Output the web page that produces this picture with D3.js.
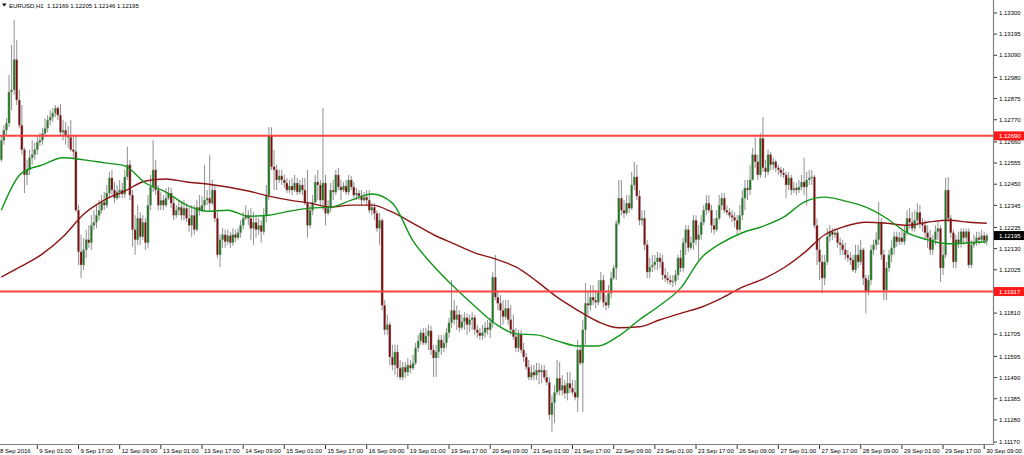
<!DOCTYPE html>
<html><head><meta charset="utf-8">
<script src="https://cdn.jsdelivr.net/npm/d3@7"></script>
<style>html,body{margin:0;padding:0;background:#fff;}svg{display:block;}text{font-family:"Liberation Sans",Arial,sans-serif;}</style>
</head><body>
<svg id="c" width="1024" height="455"></svg>
<script>
const title = "EURUSD,H1  1.12169 1.12205 1.12146 1.12195";
const firstOpen = 1.12571;
const closes = [1.12668,1.12718,1.12753,1.12908,1.12918,1.13068,1.12868,1.12743,1.12621,1.12496,
1.12521,1.12581,1.12596,1.12621,1.12658,1.12668,1.12703,1.12728,1.12768,1.12783,
1.12803,1.12828,1.12793,1.12708,1.12718,1.12693,1.12683,1.12621,1.12611,1.12321,
1.12114,1.12049,1.12124,1.12174,1.12159,1.12246,1.12261,1.12296,1.12321,1.12361,
1.12346,1.12406,1.12481,1.12421,1.12381,1.12411,1.12421,1.12401,1.12486,1.12546,
1.12396,1.12224,1.12174,1.12281,1.12189,1.12261,1.12159,1.12346,1.12436,1.12521,
1.12421,1.12346,1.12371,1.12346,1.12381,1.12406,1.12356,1.12296,1.12321,1.12336,
1.12296,1.12331,1.12281,1.12246,1.12296,1.12224,1.12336,1.12321,1.12346,1.12371,
1.12381,1.12356,1.12421,1.12281,1.12099,1.12174,1.12199,1.12164,1.12194,1.12159,
1.12199,1.12184,1.12209,1.12246,1.12281,1.12296,1.12281,1.12231,1.12261,1.12224,
1.12246,1.12214,1.12296,1.12396,1.12693,1.12536,1.12521,1.12471,1.12491,1.12471,
1.12456,1.12421,1.12441,1.12421,1.12456,1.12411,1.12446,1.12421,1.12356,1.12246,
1.12321,1.12361,1.12461,1.12446,1.12371,1.12456,1.12306,1.12331,1.12421,1.12411,
1.12496,1.12436,1.12421,1.12441,1.12411,1.12471,1.12436,1.12396,1.12406,1.12391,
1.12371,1.12386,1.12371,1.12321,1.12336,1.12306,1.12231,1.12271,1.11849,1.11727,
1.11752,1.11592,1.11552,1.11617,1.11537,1.11492,1.11542,1.11517,1.11552,1.11537,
1.11562,1.11637,1.11672,1.11712,1.11662,1.11697,1.11722,1.11627,1.11587,1.11617,
1.11677,1.11637,1.11662,1.11712,1.11762,1.11824,1.11777,1.11802,1.11737,1.11767,
1.11787,1.11752,1.11777,1.11787,1.11727,1.11712,1.11697,1.11712,1.11737,1.11727,
1.11762,1.11989,1.11889,1.11859,1.11824,1.11792,1.11834,1.11777,1.11727,1.11692,
1.11637,1.11702,1.11627,1.11592,1.11542,1.11492,1.11517,1.11502,1.11527,1.11517,
1.11527,1.11492,1.11467,1.11305,1.11365,1.11417,1.11487,1.11427,1.11452,1.11412,
1.11462,1.11437,1.11417,1.11392,1.11627,1.11562,1.11727,1.11859,1.11849,1.11889,
1.11874,1.11864,1.11914,1.11974,1.11864,1.11849,1.11909,1.11984,1.12034,1.12256,
1.12381,1.12321,1.12306,1.12356,1.12331,1.12446,1.12486,1.12391,1.12271,1.12281,
1.12149,1.12014,1.12039,1.12049,1.12064,1.12084,1.12064,1.11999,1.11984,1.11974,
1.11964,1.11969,1.11999,1.12084,1.12034,1.12159,1.12224,1.12134,1.12159,1.12271,
1.12174,1.12199,1.12261,1.12321,1.12356,1.12321,1.12246,1.12224,1.12281,1.12346,
1.12381,1.12321,1.12311,1.12296,1.12286,1.12271,1.12224,1.12296,1.12381,1.12431,
1.12421,1.12471,1.12596,1.12561,1.12496,1.12678,1.12531,1.12511,1.12596,1.12546,
1.12561,1.12531,1.12521,1.12506,1.12496,1.12446,1.12481,1.12421,1.12431,1.12421,
1.12436,1.12461,1.12436,1.12471,1.12481,1.12486,1.12246,1.12124,1.12064,1.11984,
1.12064,1.12189,1.12214,1.12199,1.12209,1.12159,1.12149,1.12124,1.12099,1.12084,
1.12074,1.12024,1.12099,1.12064,1.12124,1.11984,1.11919,1.11974,1.12124,1.12149,
1.12174,1.12261,1.12099,1.11924,1.12034,1.12099,1.12134,1.12189,1.12164,1.12184,
1.12164,1.12209,1.12281,1.12261,1.12231,1.12271,1.12311,1.12256,1.12246,1.12209,
1.12184,1.12124,1.12174,1.12214,1.12231,1.12034,1.12099,1.12421,1.12281,1.12209,
1.12064,1.12174,1.12159,1.12214,1.12184,1.12214,1.12049,1.12149,1.12159,1.12184,
1.12174,1.12194,1.12169,1.12195];
const highs = [1.12693,1.12743,1.12778,1.12993,1.13141,1.13266,1.13166,1.12918,1.12843,1.12631,
1.12571,1.12621,1.12668,1.12656,1.12693,1.12703,1.12728,1.12778,1.12793,1.12818,
1.12828,1.12843,1.12838,1.12848,1.12768,1.12758,1.12738,1.12768,1.12693,1.12693,
1.12346,1.12199,1.12184,1.12224,1.12246,1.12296,1.12321,1.12346,1.12371,1.12396,
1.12411,1.12446,1.12511,1.12521,1.12461,1.12446,1.12471,1.12456,1.12521,1.12636,
1.12571,1.12421,1.12296,1.12346,1.12311,1.12296,1.12281,1.12396,1.12496,1.12668,
1.12571,1.12446,1.12411,1.12396,1.12431,1.12436,1.12431,1.12381,1.12346,1.12371,
1.12356,1.12371,1.12356,1.12336,1.12346,1.12346,1.12371,1.12396,1.12391,1.12546,
1.12421,1.12596,1.12471,1.12446,1.12311,1.12199,1.12231,1.12224,1.12224,1.12214,
1.12231,1.12224,1.12231,1.12271,1.12311,1.12346,1.12321,1.12331,1.12311,1.12296,
1.12281,1.12271,1.12331,1.12446,1.12733,1.12733,1.12621,1.12546,1.12521,1.12521,
1.12496,1.12481,1.12471,1.12481,1.12496,1.12481,1.12471,1.12481,1.12481,1.12521,
1.12346,1.12396,1.12496,1.12521,1.12471,1.12828,1.12496,1.12371,1.12456,1.12471,
1.12521,1.12531,1.12471,1.12461,1.12471,1.12496,1.12491,1.12461,1.12431,1.12421,
1.12421,1.12411,1.12421,1.12421,1.12356,1.12356,1.12321,1.12306,1.12281,1.11874,
1.11802,1.11767,1.11652,1.11652,1.11652,1.11577,1.11567,1.11567,1.11587,1.11577,
1.11602,1.11662,1.11702,1.11727,1.11737,1.11737,1.11752,1.11747,1.11652,1.11652,
1.11702,1.11702,1.11702,1.11737,1.11787,1.11974,1.11874,1.11849,1.11824,1.11802,
1.11814,1.11809,1.11802,1.11814,1.11802,1.11752,1.11737,1.11752,1.11767,1.11777,
1.11787,1.12014,1.12099,1.11924,1.11899,1.11874,1.11874,1.11874,1.11849,1.11802,
1.11737,1.11727,1.11727,1.11662,1.11612,1.11577,1.11552,1.11552,1.11562,1.11562,
1.11552,1.11552,1.11527,1.11492,1.11402,1.11452,1.11577,1.11567,1.11502,1.11477,
1.11517,1.11517,1.11477,1.11477,1.11677,1.11652,1.11777,1.11959,1.11924,1.11949,
1.11949,1.11924,1.11974,1.12014,1.11999,1.11899,1.11949,1.12014,1.12049,1.12271,
1.12471,1.12471,1.12371,1.12396,1.12396,1.12511,1.12561,1.12546,1.12421,1.12321,
1.12321,1.12174,1.12084,1.12099,1.12099,1.12114,1.12109,1.12099,1.12034,1.12014,
1.11999,1.11999,1.12024,1.12099,1.12124,1.12184,1.12246,1.12246,1.12189,1.12296,
1.12296,1.12246,1.12296,1.12346,1.12396,1.12396,1.12346,1.12281,1.12321,1.12396,
1.12406,1.12406,1.12346,1.12331,1.12321,1.12311,1.12296,1.12346,1.12421,1.12471,
1.12471,1.12546,1.12631,1.12683,1.12596,1.12703,1.12783,1.12571,1.12621,1.12611,
1.12581,1.12571,1.12546,1.12536,1.12531,1.12511,1.12511,1.12496,1.12461,1.12456,
1.12471,1.12496,1.12581,1.12511,1.12521,1.12521,1.12496,1.12281,1.12174,1.12099,
1.12099,1.12231,1.12246,1.12231,1.12231,1.12231,1.12184,1.12174,1.12159,1.12124,
1.12114,1.12099,1.12149,1.12149,1.12174,1.12134,1.11999,1.11999,1.12149,1.12174,
1.12214,1.12361,1.12281,1.12124,1.12064,1.12124,1.12174,1.12214,1.12214,1.12214,
1.12224,1.12246,1.12321,1.12331,1.12311,1.12321,1.12356,1.12346,1.12281,1.12271,
1.12246,1.12224,1.12199,1.12246,1.12261,1.12246,1.12149,1.12481,1.12486,1.12296,
1.12224,1.12199,1.12214,1.12231,1.12231,1.12231,1.12231,1.12174,1.12199,1.12214,
1.12214,1.12224,1.12214,1.12205];
const lows = [1.12561,1.12646,1.12693,1.12733,1.12818,1.12893,1.12843,1.12728,1.12596,1.12406,
1.12446,1.12496,1.12546,1.12571,1.12596,1.12641,1.12646,1.12683,1.12708,1.12743,
1.12758,1.12783,1.12768,1.12693,1.12668,1.12646,1.12631,1.12611,1.12581,1.12311,
1.12049,1.11984,1.12024,1.12084,1.12134,1.12124,1.12224,1.12231,1.12271,1.12306,
1.12321,1.12331,1.12381,1.12396,1.12356,1.12371,1.12381,1.12381,1.12381,1.12471,
1.12371,1.12139,1.12099,1.12149,1.12149,1.12174,1.12124,1.12134,1.12321,1.12411,
1.12396,1.12321,1.12321,1.12321,1.12336,1.12371,1.12331,1.12271,1.12281,1.12296,
1.12271,1.12271,1.12261,1.12214,1.12189,1.12199,1.12214,1.12296,1.12311,1.12321,
1.12346,1.12321,1.12346,1.12261,1.12084,1.12039,1.12134,1.12134,1.12149,1.12134,
1.12144,1.12164,1.12174,1.12184,1.12224,1.12271,1.12246,1.12174,1.12149,1.12184,
1.12199,1.12159,1.12199,1.12261,1.12371,1.12521,1.12421,1.12421,1.12456,1.12446,
1.12431,1.12406,1.12406,1.12396,1.12411,1.12396,1.12401,1.12396,1.12346,1.12184,
1.12231,1.12296,1.12346,1.12371,1.12346,1.12321,1.12246,1.12296,1.12311,1.12371,
1.12396,1.12421,1.12371,1.12411,1.12396,1.12396,1.12421,1.12381,1.12371,1.12371,
1.12346,1.12361,1.12346,1.12306,1.12296,1.12271,1.12214,1.12149,1.11824,1.11702,
1.11702,1.11552,1.11527,1.11502,1.11492,1.11477,1.11477,1.11487,1.11497,1.11512,
1.11527,1.11552,1.11617,1.11652,1.11652,1.11652,1.11627,1.11602,1.11492,1.11492,
1.11587,1.11602,1.11617,1.11637,1.11687,1.11737,1.11752,1.11727,1.11717,1.11727,
1.11727,1.11702,1.11717,1.11727,1.11702,1.11687,1.11677,1.11677,1.11687,1.11702,
1.11687,1.11737,1.11874,1.11824,1.11742,1.11752,1.11777,1.11752,1.11702,1.11677,
1.11617,1.11617,1.11612,1.11567,1.11527,1.11477,1.11477,1.11477,1.11477,1.11457,
1.11462,1.11477,1.11452,1.11280,1.11220,1.11265,1.11402,1.11402,1.11402,1.11387,
1.11377,1.11412,1.11402,1.11377,1.11320,1.11552,1.11320,1.11652,1.11802,1.11824,
1.11849,1.11834,1.11849,1.11874,1.11839,1.11824,1.11834,1.11884,1.11974,1.11974,
1.12246,1.12296,1.12281,1.12296,1.12306,1.12321,1.12421,1.12371,1.12246,1.12246,
1.12124,1.11984,1.11984,1.12014,1.12024,1.12024,1.12034,1.11974,1.11964,1.11954,
1.11949,1.11939,1.11949,1.11974,1.12014,1.12014,1.12099,1.12114,1.12124,1.12124,
1.12149,1.12074,1.12174,1.12246,1.12296,1.12306,1.12209,1.12199,1.12214,1.12271,
1.12321,1.12306,1.12296,1.12281,1.12261,1.12236,1.12199,1.12214,1.12271,1.12321,
1.12371,1.12396,1.12471,1.12531,1.12471,1.12481,1.12511,1.12481,1.12496,1.12521,
1.12521,1.12511,1.12496,1.12486,1.12481,1.12381,1.12421,1.12396,1.12406,1.12396,
1.12406,1.12421,1.12396,1.12346,1.12446,1.12446,1.12231,1.12049,1.11974,1.11909,
1.11949,1.12049,1.12164,1.12174,1.12184,1.12134,1.12099,1.12099,1.12074,1.12064,
1.12049,1.12014,1.12009,1.12034,1.12049,1.11949,1.11809,1.11899,1.11949,1.12099,
1.12124,1.12149,1.12074,1.11874,1.11874,1.12014,1.12064,1.12099,1.12139,1.12149,
1.12149,1.12149,1.12194,1.12231,1.12214,1.12214,1.12246,1.12231,1.12214,1.12174,
1.12134,1.12099,1.12099,1.12149,1.12174,1.11964,1.11999,1.12084,1.12261,1.12184,
1.12034,1.12034,1.12134,1.12134,1.12149,1.12159,1.12034,1.12034,1.12134,1.12144,
1.12149,1.12159,1.12154,1.12146];

// moving averages read at sampled bars
const maBars = [0,8,16,24,32,40,48,56,64,72,80,88,96,104,112,120,128,136,144,152,160,168,176,184,192,200,208,216,224,232,240,248,256,264,272,280,288,296,304,312,320,328,336,344,352,360,368,376,383];
const maGreen = [1.12321,1.12506,1.12546,1.12581,1.12571,1.12556,1.12541,1.12456,1.12411,1.12346,1.12316,1.12321,1.12291,1.12296,1.12316,1.12331,1.12336,1.12371,1.12401,1.12356,1.12169,1.12044,1.11939,1.11844,1.11757,1.11707,1.11702,1.11672,1.11647,1.11647,1.11697,1.11777,1.11849,1.11934,1.12084,1.12159,1.12209,1.12241,1.12286,1.12361,1.12386,1.12366,1.12336,1.12281,1.12209,1.12174,1.12154,1.12159,1.12164];
const maRed = [1.11989,1.12044,1.12104,1.12189,1.12301,1.12371,1.12416,1.12466,1.12476,1.12461,1.12451,1.12436,1.12416,1.12391,1.12371,1.12356,1.12336,1.12346,1.12346,1.12311,1.12256,1.12199,1.12154,1.12109,1.12079,1.12039,1.11969,1.11889,1.11824,1.11767,1.11737,1.11742,1.11777,1.11809,1.11839,1.11884,1.11939,1.11979,1.12034,1.12109,1.12199,1.12241,1.12261,1.12256,1.12246,1.12261,1.12271,1.12261,1.12256];

const levels = [1.12690, 1.11917];
const lastPrice = 1.12195;
const yTicks = [1.13300,1.13195,1.13090,1.12980,1.12875,1.12770,1.12660,1.12555,1.12450,1.12345,1.12235,1.12130,1.12025,1.11810,1.11705,1.11595,1.11490,1.11385,1.11280,1.11170];
const xTickLabels = ["9 Sep 01:00","9 Sep 17:00","12 Sep 09:00","13 Sep 01:00","13 Sep 17:00","14 Sep 09:00","15 Sep 01:00","15 Sep 17:00","16 Sep 09:00","19 Sep 01:00","19 Sep 17:00","20 Sep 09:00","21 Sep 01:00","21 Sep 17:00","22 Sep 09:00","23 Sep 01:00","23 Sep 17:00","26 Sep 09:00","27 Sep 01:00","27 Sep 17:00","28 Sep 09:00","29 Sep 01:00","29 Sep 17:00","30 Sep 09:00"];
const firstDateLabel = "8 Sep 2016";

// bar times (hourly, weekdays only) starting 8 Sep 2016 11:00
const times = [];
{ let t = new Date(2016, 8, 8, 11);
  while (times.length < closes.length) {
    const d = t.getDay();
    if (d !== 0 && d !== 6) times.push(new Date(t));
    t = d3.timeHour.offset(t, 1);
  } }

const W = 1024, H = 455, plotR = 993, plotB = 444;
const svg = d3.select("#c");
const x = d3.scaleLinear().domain([0, closes.length - 1]).range([1.3, 986.8]);
const y = d3.scaleLinear().domain([1.111601, 1.133645]).range([plotB, 0]);

svg.append("defs").append("clipPath").attr("id","pc").append("rect").attr("x",0).attr("y",0).attr("width",plotR).attr("height",plotB);
const plot = svg.append("g").attr("clip-path","url(#pc)");

const bars = closes.map((c,i)=>{
  const o = i===0 ? firstOpen : closes[i-1];
  return {i, o, c, h: Math.max(highs[i], o, c), l: Math.min(lows[i], o, c)};
});

plot.append("g").selectAll("line").data(bars).join("line")
  .attr("x1", d=>x(d.i)).attr("x2", d=>x(d.i))
  .attr("y1", d=>y(d.h)).attr("y2", d=>y(d.l))
  .attr("stroke", "#8a8a8a").attr("stroke-width", 0.95);

plot.append("g").selectAll("rect").data(bars).join("rect")
  .attr("x", d=>x(d.i)-1.1).attr("width", 2.2)
  .attr("y", d=>y(Math.max(d.o,d.c)))
  .attr("height", d=>Math.max(0.8, Math.abs(y(d.o)-y(d.c))))
  .attr("fill", d=> d.c>=d.o ? "#247a24" : "#7d0d0d")
  .attr("stroke", "#a9a9a9").attr("stroke-width", 0.4);

const line = d3.line().x(d=>x(d[0])).y(d=>y(d[1])).curve(d3.curveMonotoneX);
plot.append("path").attr("d", line(maBars.map((b,k)=>[b, maRed[k]])))
  .attr("fill","none").attr("stroke","#8e1616").attr("stroke-width",1.4);
plot.append("path").attr("d", line(maBars.map((b,k)=>[b, maGreen[k]])))
  .attr("fill","none").attr("stroke","#12961a").attr("stroke-width",1.4);

plot.append("g").selectAll("line").data(levels).join("line")
  .attr("x1",0).attr("x2",plotR).attr("y1",d=>y(d)).attr("y2",d=>y(d))
  .attr("stroke","#ff4242").attr("stroke-width",2);

// axes frame
svg.append("line").attr("x1",plotR+0.5).attr("x2",plotR+0.5).attr("y1",0).attr("y2",plotB+1).attr("stroke","#808080").attr("stroke-width",1.2);
svg.append("line").attr("x1",0).attr("x2",plotR+1).attr("y1",plotB+0.5).attr("y2",plotB+0.5).attr("stroke","#808080").attr("stroke-width",1.2);

// right price axis
const ya = svg.append("g").attr("font-size", 6).attr("fill","#000");
ya.selectAll("line").data(yTicks).join("line")
  .attr("x1",plotR+1).attr("x2",plotR+4).attr("y1",d=>y(d)).attr("y2",d=>y(d)).attr("stroke","#000").attr("stroke-width",0.8);
ya.selectAll("text").data(yTicks).join("text")
  .attr("x",plotR+6).attr("y",d=>y(d)).attr("dy","0.36em").text(d=>d.toFixed(5));

function priceTag(v, bg){
  const g = svg.append("g");
  g.append("rect").attr("x",plotR+1).attr("y",y(v)-4.5).attr("width",W-plotR-1).attr("height",9).attr("fill",bg);
  g.append("text").attr("x",plotR+6).attr("y",y(v)).attr("dy","0.36em").attr("font-size",6).attr("fill","#fff").text(v.toFixed(5));
}
levels.forEach(v=>priceTag(v, "#ff1a1a"));
priceTag(lastPrice, "#000");

// bottom time axis
const fmt = d3.timeFormat("%-d %b %H:%M");
const xt = xTickLabels.map(lab => ({lab, i: times.findIndex(t=>fmt(t)===lab)})).filter(d=>d.i>=0);
const xa = svg.append("g").attr("font-size",6).attr("fill","#000");
xa.selectAll("line").data(xt).join("line")
  .attr("x1",d=>x(d.i)).attr("x2",d=>x(d.i)).attr("y1",plotB+1).attr("y2",plotB+5).attr("stroke","#000").attr("stroke-width",0.8);
xa.selectAll("text").data(xt).join("text")
  .attr("x",d=>x(d.i)+2).attr("y",plotB+8.5).text(d=>d.lab);
xa.append("text").attr("x",0).attr("y",plotB+8.5).text(firstDateLabel);

// title
svg.append("path").attr("d","M2,3.5 L6.5,3.5 L4.25,6.5 Z").attr("fill","#000");
svg.append("text").attr("x",9).attr("y",7.5).attr("font-size",6).attr("fill","#000").attr("xml:space","preserve").style("white-space","pre").text(title);
</script>
</body></html>
